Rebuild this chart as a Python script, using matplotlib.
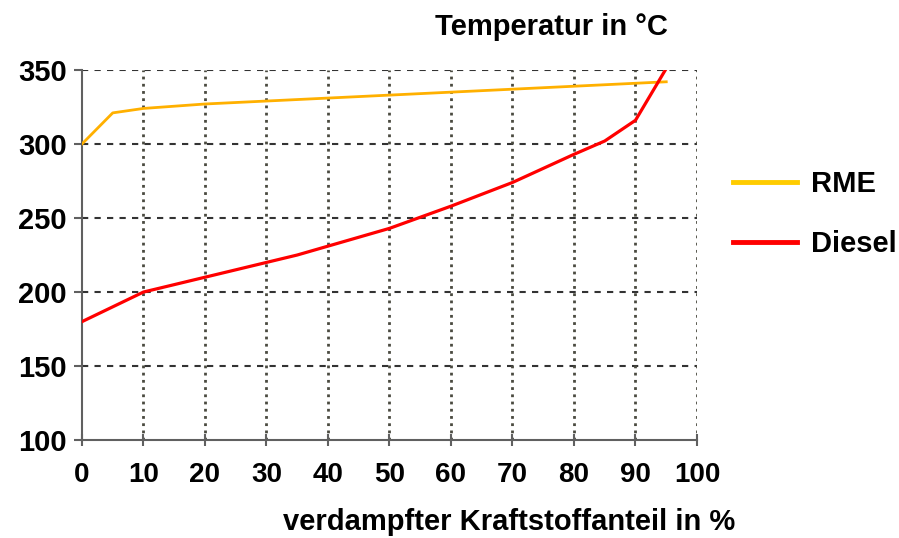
import matplotlib.pyplot as plt
from matplotlib.lines import Line2D

# Siedeverlauf: verdampfter Anteil (%) vs. Temperatur (°C)
rme_x = [0, 5, 10, 20, 30, 40, 50, 60, 70, 80, 90, 95]
rme_y = [300, 321, 324, 327, 329, 331, 333, 335, 337, 339, 341, 342]

diesel_x = [0, 5, 10, 20, 30, 35, 40, 50, 60, 70, 80, 85, 90, 95]
diesel_y = [180, 190, 200, 210, 220, 225, 231, 243, 258, 274, 293, 302, 316, 351]

x_ticks = list(range(0, 101, 10))
y_ticks = [100, 150, 200, 250, 300, 350]

plt.rcParams['font.family'] = ['Liberation Sans', 'DejaVu Sans']
plt.rcParams['font.weight'] = 'bold'

fig = plt.figure(figsize=(8.99, 5.38), dpi=100)
ax = fig.add_axes([0.0912, 0.182, 0.6841, 0.688])

ax.plot(rme_x, rme_y, color='#FFB000', lw=2.0, zorder=3)
ax.plot(diesel_x, diesel_y, color='#FF0000', lw=2.3, zorder=3)

ax.set_xlim(0, 100)
ax.set_ylim(100, 350)
ax.set_xticks(x_ticks)
ax.set_yticks(y_ticks)

# Gitter: horizontal gestrichelt, vertikal gepunktet
for y in y_ticks[1:]:
    ax.axhline(y, color='#333333', lw=1.5, ls=(0, (3, 3)), zorder=1)
for x in x_ticks[1:]:
    ax.axvline(x, color='#4a4a40', lw=2.0, ls=(0, (1, 1.6)), zorder=1)

for s in ['top', 'right']:
    ax.spines[s].set_visible(False)
for s in ['left', 'bottom']:
    ax.spines[s].set_color('#606060')
    ax.spines[s].set_linewidth(1.5)

ax.tick_params(axis='y', direction='out', length=6, width=1.5, color='#606060',
               pad=5, labelsize=21)
ax.tick_params(axis='x', direction='inout', length=8, width=1.5, color='#606060',
               pad=12, labelsize=20)
for lbl in ax.get_xticklabels() + ax.get_yticklabels():
    lbl.set_fontweight('bold')

fig.text(0.613, 0.935, 'Temperatur in °C', ha='center', va='baseline',
         fontsize=21, fontweight='bold')
fig.text(0.566, 0.0149, 'verdampfter Kraftstoffanteil in %', ha='center', va='baseline',
         fontsize=21, fontweight='bold')

handles = [Line2D([], [], color='#FFCC00', lw=3.5),
           Line2D([], [], color='#FF0000', lw=3.5)]
fig.legend(handles, ['RME', 'Diesel'], loc='upper left', bbox_to_anchor=(0.815, 0.684),
           frameon=False, handlelength=2.2, handletextpad=0.5,
           labelspacing=1.09, borderpad=0, borderaxespad=0,
           prop={'weight': 'bold', 'size': 21})

fig.savefig('out.png', dpi=100)
